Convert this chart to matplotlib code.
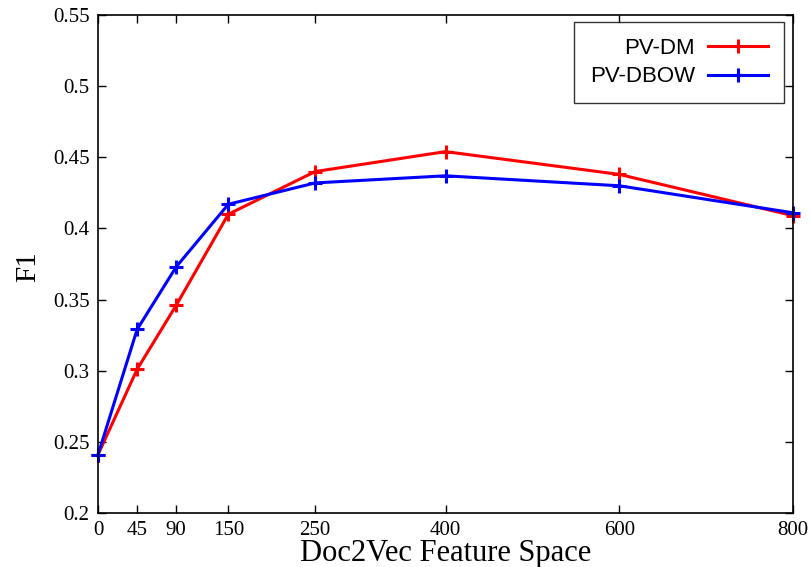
import matplotlib.pyplot as plt

# feature space sizes and F1 scores
dims = [0, 45, 90, 150, 250, 400, 600, 800]
pv_dm = [0.241, 0.301, 0.346, 0.410, 0.440, 0.454, 0.438, 0.409]
pv_dbow = [0.241, 0.329, 0.373, 0.417, 0.432, 0.437, 0.430, 0.411]
yticks = [0.2, 0.25, 0.3, 0.35, 0.4, 0.45, 0.5, 0.55]
ytick_labels = ["0.2", "0.25", "0.3", "0.35", "0.4", "0.45", "0.5", "0.55"]

serif = "Liberation Serif"
sans = "Liberation Sans"

fig = plt.figure(figsize=(8.1, 5.67), dpi=100)
ax = fig.add_axes([0.121, 0.0952, 0.858, 0.8783])

ax.plot(dims, pv_dm, color="#ff0000", lw=2.2, marker="+", ms=10, mew=2.2,
        label="PV-DM", clip_on=False)
ax.plot(dims, pv_dbow, color="#0000ff", lw=2.2, marker="+", ms=10, mew=2.2,
        label="PV-DBOW", clip_on=False)

ax.set_xlim(0, 800)
ax.set_ylim(0.2, 0.55)
ax.set_xticks(dims)
ax.set_xticklabels([str(d) for d in dims], fontfamily=serif, fontsize=15)
ax.set_yticks(yticks)
ax.set_yticklabels(ytick_labels, fontfamily=serif, fontsize=15)
ax.tick_params(direction="in", top=True, right=True, length=6, width=1,
               pad=6)
for s in ax.spines.values():
    s.set_linewidth(1.2)

ax.set_xlabel("Doc2Vec Feature Space", fontfamily=serif, fontsize=22,
              labelpad=-1)
ax.set_ylabel("F1", fontfamily=serif, fontsize=21, ha="center", va="center")
ax.yaxis.set_label_coords(-0.1, 0.495)

leg = ax.legend(loc="upper right", bbox_to_anchor=(0.987, 0.986),
                borderaxespad=0, markerfirst=False, fancybox=False,
                handlelength=2.7, prop={"family": sans, "size": 16},
                labelspacing=0.35, borderpad=0.7, handletextpad=0.6)
leg.get_frame().set_edgecolor("black")
leg.get_frame().set_linewidth(1.0)
for t in leg.get_texts():
    t.set_ha("right")

fig.savefig("out.png", dpi=100)
